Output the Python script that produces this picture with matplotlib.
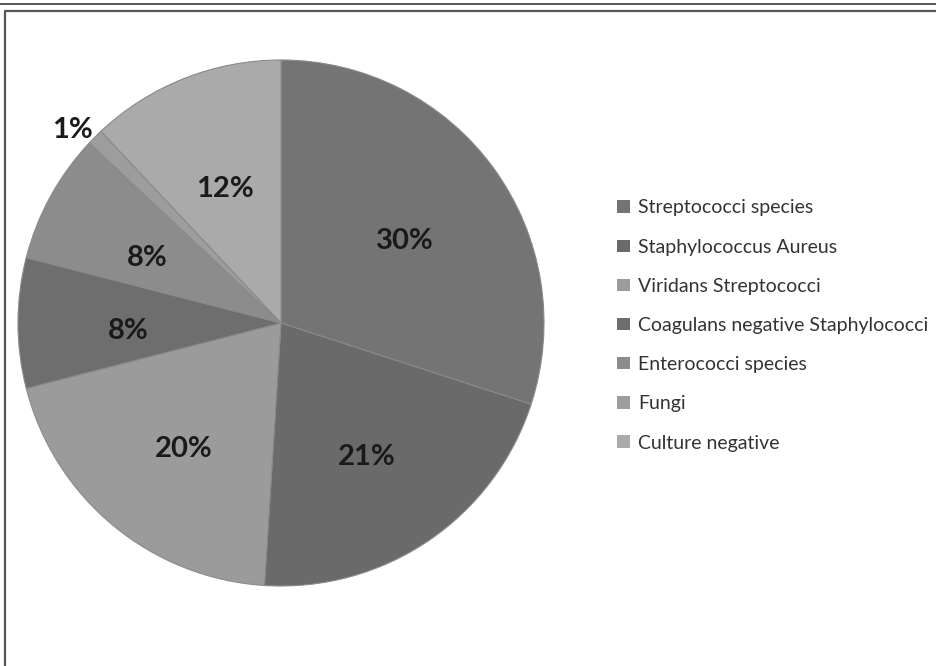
import matplotlib
matplotlib.use("Agg")
import matplotlib.pyplot as plt
from matplotlib.lines import Line2D
from matplotlib.patches import Patch
import numpy as np

categories = [
    "Streptococci species",
    "Staphylococcus Aureus",
    "Viridans Streptococci",
    "Coagulans negative Staphylococci",
    "Enterococci species",
    "Fungi",
    "Culture negative",
]
percentages = [30, 21, 20, 8, 8, 1, 12]
colors = ["#747474", "#6a6a6a", "#9b9b9b", "#6e6e6e", "#8c8c8c", "#9d9d9d", "#aaaaaa"]

W, H = 937, 666
fig = plt.figure(figsize=(W / 100, H / 100), dpi=100)
fig.patch.set_facecolor("white")

# page frame: a rule across the top and an open box beneath it
fig.add_artist(Line2D([0, 1], [1 - 3.5 / H, 1 - 3.5 / H], transform=fig.transFigure,
                      color="#555555", lw=1.4))
fig.add_artist(Line2D([5.5 / W, 5.5 / W, 1.0], [0.0, 1 - 10.5 / H, 1 - 10.5 / H],
                      transform=fig.transFigure, color="#555555", lw=1.6))

cx, cy, r = 281, 323, 263
ax = fig.add_axes([(cx - r) / W, 1 - (cy + r) / H, 2 * r / W, 2 * r / H])
wedges, texts, autotexts = ax.pie(
    percentages,
    colors=colors,
    startangle=90,
    counterclock=False,
    autopct="%d%%",
    pctdistance=0.58,
    wedgeprops=dict(linewidth=0.8, edgecolor="#8a8a8a"),
    textprops=dict(family=["Lato", "DejaVu Sans"], fontweight="bold",
                   fontsize=21, color="#1a1a1a"),
)
ax.set_aspect("equal")
ax.set_xlim(-1, 1)
ax.set_ylim(-1, 1)

# nudge the percentage labels; the thin slice gets its label outside the rim
dy = -8 / r
for w, t, p in zip(wedges, autotexts, percentages):
    x, y = t.get_position()
    if p < 2:
        ang = np.deg2rad((w.theta1 + w.theta2) / 2)
        x, y = 1.08 * np.cos(ang) - 0.03, 1.08 * np.sin(ang)
    t.set_position((x, y + dy))

handles = [Patch(facecolor=c, edgecolor="none") for c in colors]
leg = fig.legend(
    handles, categories,
    loc="upper left",
    bbox_to_anchor=(600 / W, 1 - 182 / H),
    frameon=False,
    handlelength=0.65, handleheight=0.6, handletextpad=0.4,
    labelspacing=1.14,
    prop=dict(family=["Lato", "DejaVu Sans"], size=14),
)
for t in leg.get_texts():
    t.set_color("#333333")

fig.savefig("out.png", dpi=100, facecolor="white")
